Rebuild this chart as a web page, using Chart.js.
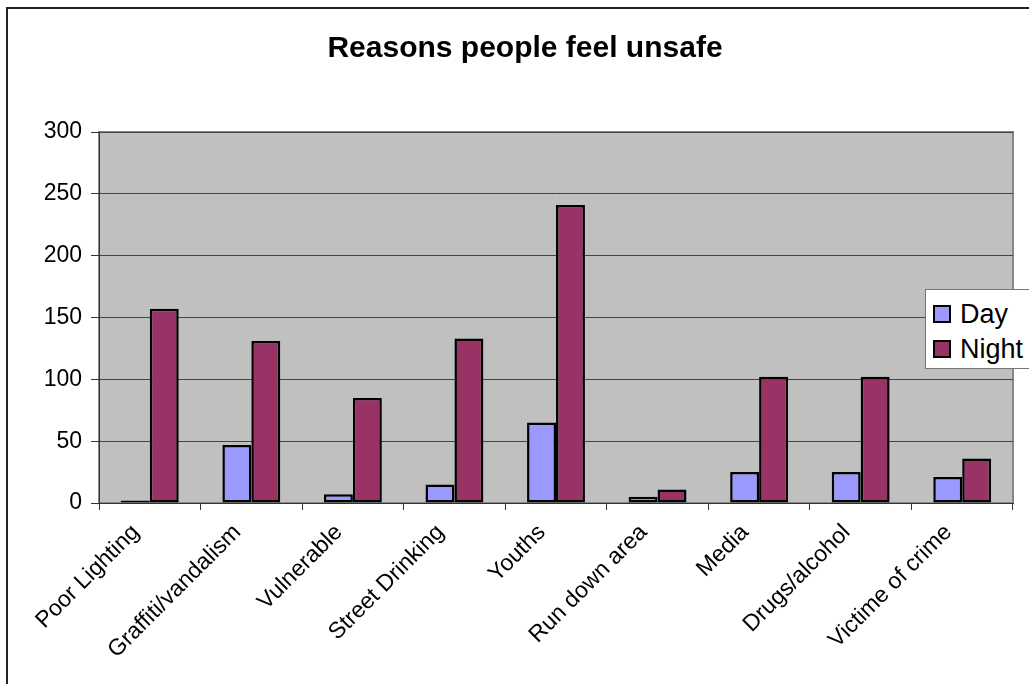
<!DOCTYPE html>
<html>
<head>
<meta charset="utf-8">
<title>Reasons people feel unsafe</title>
<script src="https://cdn.jsdelivr.net/npm/chart.js@4/dist/chart.umd.min.js"></script>
<style>
  html, body { margin: 0; padding: 0; background: #fff; overflow: hidden; }
  #wrap { position: relative; width: 1029px; height: 684px; }
  #frame {
    position: absolute; left: 6px; top: 7px; width: 1100px; height: 700px;
    border-left: 2px solid #222; border-top: 2px solid #222; pointer-events: none;
  }
  #legend {
    position: absolute; left: 925px; top: 289px; width: 120px; height: 80px;
    background: #fff; border: 1px solid #777; box-sizing: border-box;
    font-family: 'Liberation Sans', Arial, sans-serif; font-size: 27px; color: #000;
  }
  #legend .item { position: absolute; left: 7px; height: 30px; line-height: 30px; white-space: nowrap; }
  #legend .swatch {
    display: inline-block; width: 14px; height: 14px; border: 2px solid #000;
    vertical-align: middle; margin-right: 9px; position: relative; top: -2px;
  }
</style>
</head>
<body>
<div id="wrap">
  <canvas id="chart" width="1029" height="684"></canvas>
  <div id="frame"></div>
  <div id="legend"></div>
</div>
<script>
// values
const categories = ['Poor Lighting', 'Graffiti/vandalism', 'Vulnerable', 'Street Drinking', 'Youths',
  'Run down area', 'Media', 'Drugs/alcohol', 'Victime of crime'];
const dayValues = [2, 47, 7, 15, 65, 5, 25, 25, 21];
const nightValues = [157, 131, 85, 133, 241, 11, 102, 102, 36];
const yTicks = [0, 50, 100, 150, 200, 250, 300];

const seriesNames = ['Day', 'Night'];
const seriesColors = ['#9999FF', '#993366'];

const FONT = "'Liberation Sans', Arial, sans-serif";

// grey plot area with a thin border, like the old Excel charts
const plotBackground = {
  id: 'plotBackground',
  beforeDraw(chart) {
    const { ctx, chartArea: a } = chart;
    ctx.save();
    ctx.fillStyle = '#C0C0C0';
    ctx.fillRect(a.left, a.top, a.right - a.left, a.bottom - a.top);
    ctx.strokeStyle = '#888';
    ctx.lineWidth = 2;
    ctx.strokeRect(a.left, a.top, a.right - a.left, a.bottom - a.top);
    ctx.restore();
  }
};

const datasets = [dayValues, nightValues].map((values, i) => ({
  label: seriesNames[i],
  data: values,
  backgroundColor: seriesColors[i],
  borderColor: '#000',
  borderWidth: 2.5,
  borderSkipped: false,
  categoryPercentage: 0.57,
  barPercentage: 1.0
}));

new Chart(document.getElementById('chart'), {
  type: 'bar',
  data: { labels: categories, datasets: datasets },
  plugins: [plotBackground],
  options: {
    responsive: false,
    animation: false,
    devicePixelRatio: 1,
    layout: { padding: { left: 37, right: 16, top: 0, bottom: 0 } },
    plugins: {
      legend: { display: false },
      tooltip: { enabled: false },
      title: {
        display: true,
        text: 'Reasons people feel unsafe',
        color: '#000',
        font: { family: FONT, size: 30, weight: 'bold' },
        padding: { top: 31, bottom: 65 }
      }
    },
    scales: {
      x: {
        grid: { display: true, drawOnChartArea: false, drawTicks: true, tickLength: 7, color: '#333', offset: true },
        border: { display: true, color: '#333', width: 1 },
        ticks: {
          color: '#000',
          font: { family: FONT, size: 23 },
          minRotation: 45,
          maxRotation: 45,
          autoSkip: false,
          padding: 9,
          labelOffset: -14
        },
        afterFit(scale) { scale.height = 181; }
      },
      y: {
        min: 0,
        max: 300,
        afterBuildTicks(scale) { scale.ticks = yTicks.map(v => ({ value: v })); },
        grid: { color: '#444', lineWidth: 1, tickLength: 8, tickColor: '#333' },
        border: { display: true, color: '#333', width: 1 },
        ticks: {
          color: '#000',
          font: { family: FONT, size: 23 },
          padding: 9
        },
        afterFit(scale) { scale.width = 62; }
      }
    }
  }
});

// legend drawn as html so it can sit over the plot area like the original
const legend = document.getElementById('legend');
seriesNames.forEach((name, i) => {
  const item = document.createElement('div');
  item.className = 'item';
  item.style.top = (i === 0 ? 9 : 44) + 'px';
  item.innerHTML = '<span class="swatch" style="background:' + seriesColors[i] + '"></span>' + name;
  legend.appendChild(item);
});
</script>
</body>
</html>
